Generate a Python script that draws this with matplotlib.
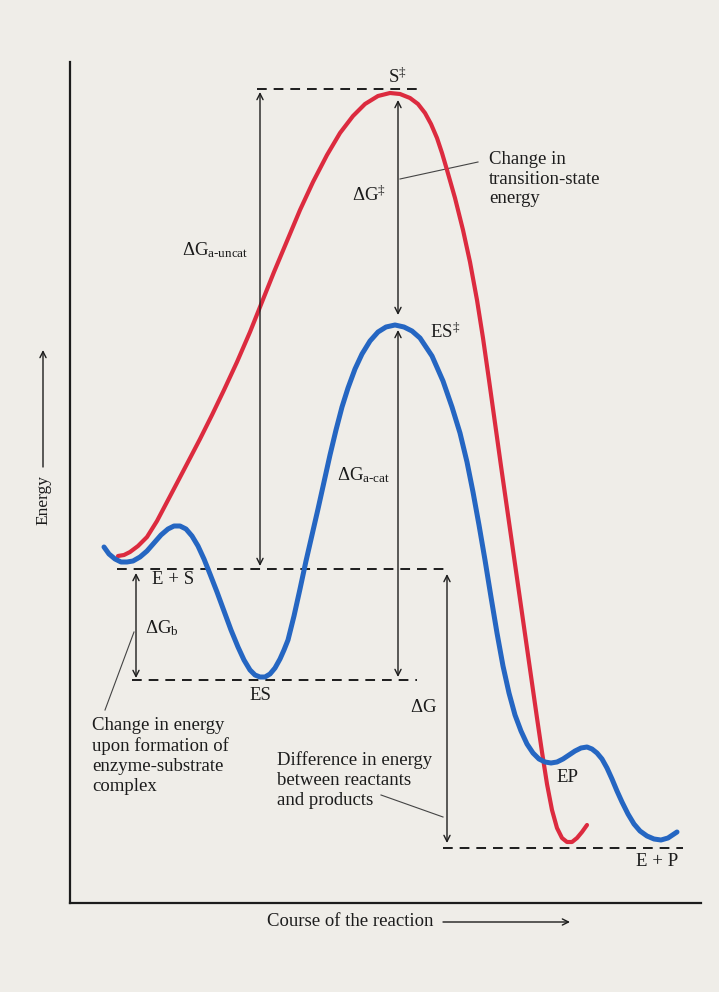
import matplotlib
matplotlib.use('Agg')
import matplotlib.pyplot as plt

# ---------------- data (reaction coordinate, energy) ----------------
blue_x = [34, 39, 45, 51, 57, 63, 70, 77, 84, 91, 98, 104, 110, 116, 122, 128, 134, 140, 147,
          154, 161, 168, 174, 180, 185, 190, 195, 200, 205, 210, 214, 218, 224, 230, 236, 242,
          248, 254, 260, 266, 272, 278, 285, 292, 300, 308, 316, 325, 334, 342, 350, 362, 373,
          382, 390, 397, 403, 409, 415, 421, 427, 433, 439, 445, 451, 457, 463, 469, 475, 481,
          487, 493, 499, 505, 511, 517, 522, 527, 532, 537, 542, 547, 552, 558, 564, 570, 577,
          584, 591, 598, 607]
blue_e = [356, 349, 344, 341, 341, 342, 346, 352, 360, 368, 374, 377, 377, 374, 367, 357, 344, 329, 311,
          292, 273, 256, 243, 233, 228, 226, 226, 229, 235, 244, 253, 263, 287, 314, 342, 368,
          394, 421, 448, 473, 496, 515, 534, 549, 562, 571, 576, 578, 576, 572, 565, 547, 522,
          496, 470, 441, 411, 378, 343, 306, 270, 237, 210, 188, 172, 159, 150, 144, 141, 140,
          141, 144, 148, 152, 155, 156, 154, 150, 144, 135, 124, 112, 101, 89, 79, 72, 67,
          64, 63, 65, 71]

red_x = [48, 54, 60, 68, 77, 87, 97, 107, 118, 130, 142, 154, 167, 180, 192, 204, 217, 230,
         243, 257, 270, 283, 295, 308, 320, 330, 340, 348, 355, 361, 367, 372, 377, 385, 393,
         400, 407, 413, 419, 425, 431, 437, 443, 449, 455, 461, 467, 472, 477, 482, 487, 492,
         497, 502, 507, 512, 517]
red_e = [347, 348, 351, 357, 366, 382, 401, 420, 441, 464, 488, 513, 541, 571, 601, 631, 662, 693,
         721, 748, 770, 787, 799, 807, 810, 809, 805, 799, 790, 779, 765, 750, 733, 705, 673,
         641, 603, 565, 523, 480, 437, 395, 353, 311, 269, 227, 185, 151, 119, 93, 75, 65,
         61, 61, 65, 71, 78]

# reference energy levels (dashed) : S‡, E + S, ES, E + P
level_e = [814, 334, 223, 55]
level_x0 = [187, 47, 62, 373]
level_x1 = [350, 378, 347, 613]

# double-headed energy-difference arrows
arrow_names = ['dG_uncat', 'dG_ts', 'dG_cat', 'dG_b', 'dG']
arrow_x = [190, 328, 328, 66, 377]
arrow_top = [811, 803, 573, 330, 329]
arrow_bottom = [337, 588, 226, 225, 60]

# ---------------- figure ----------------
plt.rcParams['font.family'] = ['Liberation Serif', 'DejaVu Serif']
plt.rcParams['mathtext.fontset'] = 'custom'
plt.rcParams['mathtext.rm'] = 'Liberation Serif'
plt.rcParams['mathtext.it'] = 'Liberation Serif:italic'
plt.rcParams['mathtext.bf'] = 'Liberation Serif:bold'
plt.rcParams['lines.scale_dashes'] = False

W, H = 719, 992
fig = plt.figure(figsize=(W / 100, H / 100), dpi=100)
bg = '#efede8'
fig.patch.set_facecolor(bg)

ax = fig.add_axes([70 / W, 89 / H, 631 / W, 841 / H])
ax.set_facecolor('none')
ax.set_xlim(0, 631)
ax.set_ylim(0, 841)
for s in ['top', 'right']:
    ax.spines[s].set_visible(False)
for s in ['left', 'bottom']:
    ax.spines[s].set_linewidth(1.6)
    ax.spines[s].set_color('#1c1c1c')
ax.set_xticks([])
ax.set_yticks([])

ink = '#1c1c1c'
red = '#dc2b3f'
blue = '#2566c2'
fs = 13.5

# dashed levels
for e, x0, x1 in zip(level_e, level_x0, level_x1):
    ax.plot([x0, x1], [e, e], color=ink, lw=1.4, dashes=(7, 5))

# curves
ax.plot(red_x, red_e, color=red, lw=3.0, solid_capstyle='round', solid_joinstyle='round', zorder=3)
ax.plot(blue_x, blue_e, color=blue, lw=3.6, solid_capstyle='round', solid_joinstyle='round', zorder=4)

# arrows
for x, t, b in zip(arrow_x, arrow_top, arrow_bottom):
    ax.annotate('', xy=(x, t), xytext=(x, b),
                arrowprops=dict(arrowstyle='<->', lw=1.0, color=ink, mutation_scale=11,
                                shrinkA=0, shrinkB=0))

# state labels
ax.text(327, 826, r'S$^{\ddagger}$', ha='center', va='center', fontsize=fs, color=ink)
ax.text(360, 571, r'ES$^{\ddagger}$', ha='left', va='center', fontsize=fs, color=ink)
ax.text(103, 323, 'E + S', ha='center', va='center', fontsize=fs, color=ink)
ax.text(190, 208, 'ES', ha='center', va='center', fontsize=fs, color=ink)
ax.text(497, 126, 'EP', ha='center', va='center', fontsize=fs, color=ink)
ax.text(587, 41, 'E + P', ha='center', va='center', fontsize=fs, color=ink)

# energy-difference labels
ax.text(178, 653, r'$\mathrm{\Delta G}_{\mathrm{a\text{-}uncat}}$', ha='right', va='center', fontsize=fs, color=ink)
ax.text(299, 708, r'$\mathrm{\Delta G}^{\ddagger}$', ha='center', va='center', fontsize=fs, color=ink)
ax.text(294, 428, r'$\mathrm{\Delta G}_{\mathrm{a\text{-}cat}}$', ha='center', va='center', fontsize=fs, color=ink)
ax.text(75, 275, r'$\mathrm{\Delta G}_{\mathrm{b}}$', ha='left', va='center', fontsize=fs, color=ink)
ax.text(367, 196, r'$\mathrm{\Delta G}$', ha='right', va='center', fontsize=fs, color=ink)

# explanatory notes with leader lines
ax.text(419, 724, 'Change in\ntransition-state\nenergy', ha='left', va='center',
        fontsize=fs, color=ink, linespacing=1.2)
ax.plot([330, 408], [724, 741], color='#444444', lw=0.8)

ax.text(22, 147, 'Change in energy\nupon formation of\nenzyme-substrate\ncomplex', ha='left',
        va='center', fontsize=fs, color=ink, linespacing=1.22)
ax.plot([64, 35], [271, 193], color='#444444', lw=0.8)

ax.text(207, 123, 'Difference in energy\nbetween reactants\nand products', ha='left',
        va='center', fontsize=fs, color=ink, linespacing=1.22)
ax.plot([311, 373], [108, 86], color='#444444', lw=0.8)

# axis titles with arrows (figure pixel coordinates)
fig.text(43 / W, 1 - 500 / H, 'Energy', rotation=90, ha='center', va='center', fontsize=12.5, color=ink)
ax.annotate('', xy=(43, H - 350), xytext=(43, H - 467), xycoords='figure pixels',
            textcoords='figure pixels', annotation_clip=False,
            arrowprops=dict(arrowstyle='->', lw=1.0, color=ink, mutation_scale=11, shrinkA=0, shrinkB=0))
fig.text(350 / W, 1 - 921 / H, 'Course of the reaction', ha='center', va='center', fontsize=fs, color=ink)
ax.annotate('', xy=(570, H - 922), xytext=(443, H - 922), xycoords='figure pixels',
            textcoords='figure pixels', annotation_clip=False,
            arrowprops=dict(arrowstyle='->', lw=1.0, color=ink, mutation_scale=11, shrinkA=0, shrinkB=0))

fig.savefig('out.png', dpi=100, facecolor=bg)
